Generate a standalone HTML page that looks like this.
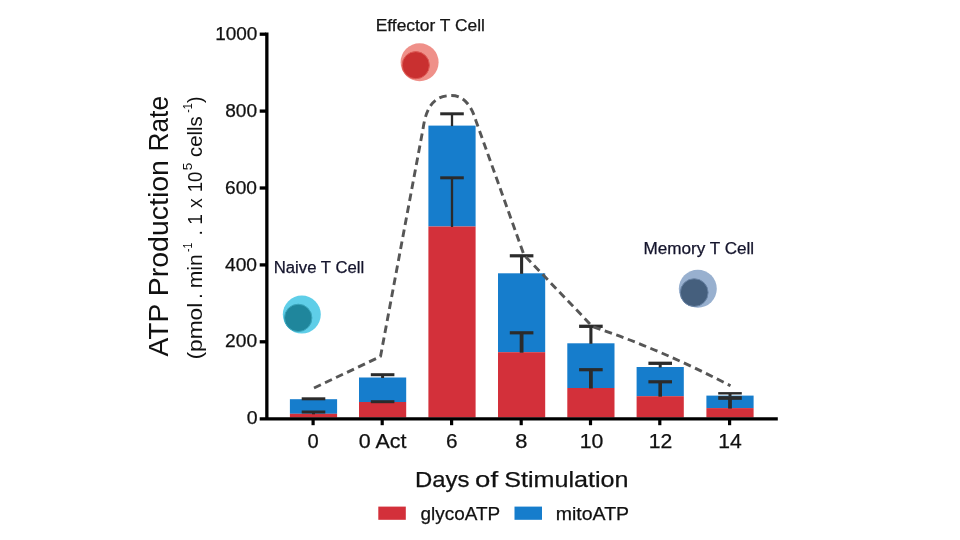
<!DOCTYPE html>
<html lang="en"><head><meta charset="utf-8"><title>ATP Production Rate</title>
<style>
html,body{margin:0;padding:0;background:#fff;}
body{width:960px;height:540px;overflow:hidden;}
svg{display:block;}
text{font-family:"Liberation Sans",sans-serif;}
</style></head><body>
<svg width="960" height="540" viewBox="0 0 960 540">
<rect width="960" height="540" fill="#fff"/>
<rect x="289.9" y="399.2" width="47.2" height="14.6" fill="#167dcc"/>
<rect x="289.9" y="413.8" width="47.2" height="3.7" fill="#d3303a"/>
<rect x="359.0" y="377.5" width="47.2" height="24.5" fill="#167dcc"/>
<rect x="359.0" y="402.0" width="47.2" height="15.5" fill="#d3303a"/>
<rect x="428.4" y="125.6" width="47.2" height="100.9" fill="#167dcc"/>
<rect x="428.4" y="226.5" width="47.2" height="191.0" fill="#d3303a"/>
<rect x="498.0" y="273.3" width="47.2" height="78.9" fill="#167dcc"/>
<rect x="498.0" y="352.2" width="47.2" height="65.3" fill="#d3303a"/>
<rect x="567.3" y="343.3" width="47.2" height="44.7" fill="#167dcc"/>
<rect x="567.3" y="388.0" width="47.2" height="29.5" fill="#d3303a"/>
<rect x="636.6" y="367.0" width="47.2" height="29.2" fill="#167dcc"/>
<rect x="636.6" y="396.2" width="47.2" height="21.3" fill="#d3303a"/>
<rect x="706.4" y="395.6" width="47.2" height="12.5" fill="#167dcc"/>
<rect x="706.4" y="408.1" width="47.2" height="9.4" fill="#d3303a"/>
<path d="M301.7,398.8H325.3" stroke="#2b2b2b" stroke-width="3.0" fill="none"/>
<path d="M301.7,412.0H325.3" stroke="#2b2b2b" stroke-width="3.0" fill="none"/>
<path d="M313.5,398.8V399.7" stroke="#2b2b2b" stroke-width="3" fill="none"/>
<path d="M313.5,412.0V414.3" stroke="#2b2b2b" stroke-width="3" fill="none"/>
<path d="M370.8,374.7H394.4" stroke="#2b2b2b" stroke-width="3.0" fill="none"/>
<path d="M370.8,401.7H394.4" stroke="#2b2b2b" stroke-width="3.0" fill="none"/>
<path d="M382.6,374.7V378.0" stroke="#2b2b2b" stroke-width="3" fill="none"/>
<path d="M382.6,401.7V402.5" stroke="#2b2b2b" stroke-width="3" fill="none"/>
<path d="M440.2,113.8H463.8" stroke="#2b2b2b" stroke-width="3.0" fill="none"/>
<path d="M440.2,177.8H463.8" stroke="#2b2b2b" stroke-width="3.0" fill="none"/>
<path d="M452.0,113.8V126.1" stroke="#2b2b2b" stroke-width="2.3" fill="none"/>
<path d="M452.0,177.8V227.0" stroke="#2b2b2b" stroke-width="2.3" fill="none"/>
<path d="M509.8,255.8H533.4" stroke="#2b2b2b" stroke-width="3.2" fill="none"/>
<path d="M509.8,332.8H533.4" stroke="#2b2b2b" stroke-width="3.2" fill="none"/>
<path d="M521.6,255.8V273.8" stroke="#2b2b2b" stroke-width="3.1" fill="none"/>
<path d="M521.6,332.8V352.7" stroke="#2b2b2b" stroke-width="3.8" fill="none"/>
<path d="M579.1,326.3H602.7" stroke="#2b2b2b" stroke-width="3.3" fill="none"/>
<path d="M579.1,369.7H602.7" stroke="#2b2b2b" stroke-width="3.2" fill="none"/>
<path d="M590.9,326.3V343.8" stroke="#2b2b2b" stroke-width="3.1" fill="none"/>
<path d="M590.9,369.7V388.5" stroke="#2b2b2b" stroke-width="3.8" fill="none"/>
<path d="M648.4,363.3H672.0" stroke="#2b2b2b" stroke-width="3.3" fill="none"/>
<path d="M648.4,381.8H672.0" stroke="#2b2b2b" stroke-width="3.2" fill="none"/>
<path d="M660.2,363.3V367.5" stroke="#2b2b2b" stroke-width="3.0" fill="none"/>
<path d="M660.2,381.8V396.7" stroke="#2b2b2b" stroke-width="3.6" fill="none"/>
<path d="M718.2,393.3H741.8" stroke="#2b2b2b" stroke-width="2.4" fill="none"/>
<path d="M718.2,398.0H741.8" stroke="#2b2b2b" stroke-width="3.7" fill="none"/>
<path d="M730.0,393.3V396.1" stroke="#2b2b2b" stroke-width="3.0" fill="none"/>
<path d="M730.0,398.0V408.6" stroke="#2b2b2b" stroke-width="3.8" fill="none"/>
<path d="M314,388 L380.5,356.5 L423,129 C426.5,104 436,95.5 451.5,95.5 C464,95.5 471.5,106 476,121 L524,255 L592.6,326.7 Q660,349 730.5,385.8" fill="none" stroke="#565656" stroke-width="2.9" stroke-dasharray="7.6 4.6" stroke-linecap="butt" stroke-linejoin="round"/>
<path d="M266.85,32.5V418.8M259.7,418.8H777.8" stroke="#000" stroke-width="3.3" fill="none" stroke-linecap="butt"/>
<path d="M259.7,341.8H266" stroke="#000" stroke-width="3.3"/>
<path d="M259.7,264.9H266" stroke="#000" stroke-width="3.3"/>
<path d="M259.7,188.0H266" stroke="#000" stroke-width="3.3"/>
<path d="M259.7,111.1H266" stroke="#000" stroke-width="3.3"/>
<path d="M259.7,34.2H266" stroke="#000" stroke-width="3.3"/>
<path d="M313.1,419V425.2" stroke="#000" stroke-width="3.2"/>
<path d="M382.2,419V425.2" stroke="#000" stroke-width="3.2"/>
<path d="M451.6,419V425.2" stroke="#000" stroke-width="3.2"/>
<path d="M521.2,419V425.2" stroke="#000" stroke-width="3.2"/>
<path d="M590.5,419V425.2" stroke="#000" stroke-width="3.2"/>
<path d="M659.8,419V425.2" stroke="#000" stroke-width="3.2"/>
<path d="M729.6,419V425.2" stroke="#000" stroke-width="3.2"/>
<text x="246.69" y="424.3" font-size="18" fill="#111" stroke="#111" stroke-width="0.25" textLength="10.84" lengthAdjust="spacingAndGlyphs">0</text>
<text x="225.07" y="347.4" font-size="18" fill="#111" stroke="#111" stroke-width="0.25" textLength="32.04" lengthAdjust="spacingAndGlyphs">200</text>
<text x="225.00" y="270.5" font-size="18" fill="#111" stroke="#111" stroke-width="0.25" textLength="32.00" lengthAdjust="spacingAndGlyphs">400</text>
<text x="225.07" y="193.6" font-size="18" fill="#111" stroke="#111" stroke-width="0.25" textLength="31.93" lengthAdjust="spacingAndGlyphs">600</text>
<text x="225.20" y="116.7" font-size="18" fill="#111" stroke="#111" stroke-width="0.25" textLength="31.90" lengthAdjust="spacingAndGlyphs">800</text>
<text x="215.25" y="39.8" font-size="18" fill="#111" stroke="#111" stroke-width="0.25" textLength="42.15" lengthAdjust="spacingAndGlyphs">1000</text>
<text x="307.62" y="447.6" font-size="19.4" fill="#111" stroke="#111" stroke-width="0.25" textLength="11.20" lengthAdjust="spacingAndGlyphs">0</text>
<text x="358.87" y="447.6" font-size="19.4" fill="#111" stroke="#111" stroke-width="0.25" textLength="47.68" lengthAdjust="spacingAndGlyphs">0 Act</text>
<text x="446.13" y="447.6" font-size="19.4" fill="#111" stroke="#111" stroke-width="0.25" textLength="11.55" lengthAdjust="spacingAndGlyphs">6</text>
<text x="515.31" y="447.6" font-size="19.4" fill="#111" stroke="#111" stroke-width="0.25" textLength="12.18" lengthAdjust="spacingAndGlyphs">8</text>
<text x="579.66" y="447.6" font-size="19.4" fill="#111" stroke="#111" stroke-width="0.25" textLength="23.65" lengthAdjust="spacingAndGlyphs">10</text>
<text x="648.76" y="447.6" font-size="19.4" fill="#111" stroke="#111" stroke-width="0.25" textLength="23.58" lengthAdjust="spacingAndGlyphs">12</text>
<text x="718.37" y="447.6" font-size="19.4" fill="#111" stroke="#111" stroke-width="0.25" textLength="23.46" lengthAdjust="spacingAndGlyphs">14</text>
<text x="414.92" y="486.9" font-size="22.6" fill="#111" stroke="#111" stroke-width="0.25" textLength="54.50" lengthAdjust="spacingAndGlyphs">Days</text>
<text x="475.08" y="486.9" font-size="22.6" fill="#111" stroke="#111" stroke-width="0.25" textLength="22.99" lengthAdjust="spacingAndGlyphs">of</text>
<text x="504.19" y="486.9" font-size="22.6" fill="#111" stroke="#111" stroke-width="0.25" textLength="124.39" lengthAdjust="spacingAndGlyphs">Stimulation</text>
<text x="420.55" y="520.0" font-size="19" fill="#111" stroke="#111" stroke-width="0.25" textLength="79.67" lengthAdjust="spacingAndGlyphs">glycoATP</text>
<text x="555.72" y="520.0" font-size="19" fill="#111" stroke="#111" stroke-width="0.25" textLength="73.37" lengthAdjust="spacingAndGlyphs">mitoATP</text>
<text x="375.71" y="31.3" font-size="16" fill="#151515" stroke="#151515" stroke-width="0.25" textLength="109.21" lengthAdjust="spacingAndGlyphs">Effector T Cell</text>
<text x="273.76" y="272.7" font-size="16" fill="#14142c" stroke="#14142c" stroke-width="0.25" textLength="90.44" lengthAdjust="spacingAndGlyphs">Naive T Cell</text>
<text x="643.53" y="254.2" font-size="16" fill="#14142c" stroke="#14142c" stroke-width="0.25" textLength="110.60" lengthAdjust="spacingAndGlyphs">Memory T Cell</text>
<g transform="translate(168.3,0) rotate(-90)" fill="#111">
<text x="-356.53" y="0" font-size="27" textLength="52.78" lengthAdjust="spacingAndGlyphs">ATP</text>
<text x="-296.27" y="0" font-size="27" textLength="136.17" lengthAdjust="spacingAndGlyphs">Production</text>
<text x="-151.49" y="0" font-size="27" textLength="55.52" lengthAdjust="spacingAndGlyphs">Rate</text>
</g>
<g transform="translate(202,0) rotate(-90)" fill="#111">
<text x="-359.6" y="0" font-size="19.5" textLength="56.9" lengthAdjust="spacingAndGlyphs">(pmol</text>
<text x="-298.7" y="0" font-size="19.5" textLength="5.4" lengthAdjust="spacingAndGlyphs">.</text>
<text x="-288.3" y="0" font-size="19.5" textLength="33.9" lengthAdjust="spacingAndGlyphs">min</text>
<text x="-252.1" y="-10.3" font-size="13.5" textLength="9.4" lengthAdjust="spacingAndGlyphs">-1</text>
<text x="-235.6" y="0" font-size="19.5" textLength="5.4" lengthAdjust="spacingAndGlyphs">.</text>
<text x="-224.8" y="0" font-size="19.5" textLength="10.8" lengthAdjust="spacingAndGlyphs">1</text>
<text x="-208.0" y="0" font-size="19.5" textLength="9.8" lengthAdjust="spacingAndGlyphs">x</text>
<text x="-192.3" y="0" font-size="19.5" textLength="20.7" lengthAdjust="spacingAndGlyphs">10</text>
<text x="-170.3" y="-10.3" font-size="13.5" textLength="7.5" lengthAdjust="spacingAndGlyphs">5</text>
<text x="-156.9" y="0" font-size="19.5" textLength="40.6" lengthAdjust="spacingAndGlyphs">cells</text>
<text x="-112.8" y="-10.3" font-size="13.5" textLength="9.5" lengthAdjust="spacingAndGlyphs">-1</text>
<text x="-103.1" y="0" font-size="19.5" textLength="6.5" lengthAdjust="spacingAndGlyphs">)</text>
</g>
<rect x="378.3" y="506.6" width="27.5" height="13.2" fill="#d3303a"/>
<rect x="514.5" y="506.6" width="27.5" height="13.2" fill="#167dcc"/>
<circle cx="419.6" cy="62.2" r="19" fill="#ef9089"/><circle cx="415.8" cy="65.2" r="13.6" fill="#c93030" stroke="#dd5a55" stroke-width="1"/>
<circle cx="301.8" cy="314.6" r="19" fill="#5fcee8"/><circle cx="298.2" cy="317.9" r="13.7" fill="#1f869c" stroke="#3aa5bb" stroke-width="1"/>
<circle cx="697.8" cy="288.8" r="19" fill="#98b0cf"/><circle cx="694.2" cy="292.6" r="13.9" fill="#455f7d" stroke="#6a84a5" stroke-width="1"/>
</svg></body></html>
